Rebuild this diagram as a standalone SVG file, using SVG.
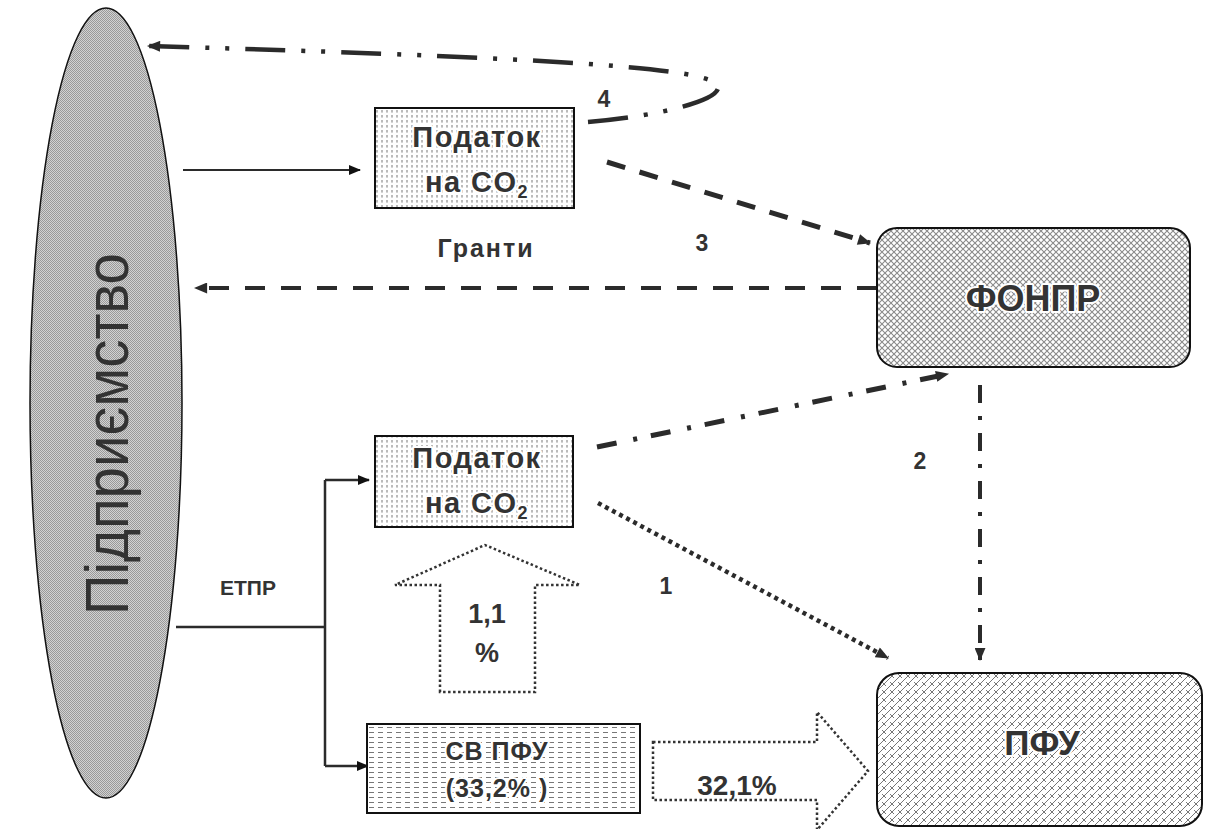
<svg xmlns="http://www.w3.org/2000/svg" width="1230" height="829" viewBox="0 0 1230 829">
<style>
.lbl{font-family:"Liberation Sans",Arial,sans-serif;font-weight:bold;fill:#333;text-anchor:middle}
.halo{stroke:#fff;stroke-width:4;paint-order:stroke;stroke-linejoin:round}
.con{fill:none;stroke:#2b2b2b}
.box{stroke:#111;stroke-width:2}
</style>
<defs>
<marker id="ah" viewBox="0 0 12 10" markerUnits="userSpaceOnUse" markerWidth="14" markerHeight="11" refX="11" refY="5" orient="auto">
<path d="M0 0 L12 5 L0 10 z" fill="#2b2b2b"/>
</marker>
<marker id="ahs" viewBox="0 0 12 10" markerUnits="userSpaceOnUse" markerWidth="13" markerHeight="10" refX="11" refY="5" orient="auto">
<path d="M0 0 L12 5 L0 10 z" fill="#111"/>
</marker>
<pattern id="pDots" patternUnits="userSpaceOnUse" width="5" height="5">
<rect width="5" height="5" fill="#fff"/>
<line x1="2" y1="0" x2="2" y2="2.6" stroke="#777" stroke-width="1"/>
</pattern>
<pattern id="pHor" patternUnits="userSpaceOnUse" width="9" height="5">
<rect width="9" height="5" fill="#fff"/>
<line x1="0" y1="2.5" x2="5" y2="2.5" stroke="#777" stroke-width="1"/>
</pattern>
<pattern id="pCross" patternUnits="userSpaceOnUse" width="6" height="6">
<rect width="6" height="6" fill="#fff"/>
<path d="M0 0 L6 6 M6 0 L0 6" stroke="#8a8a8a" stroke-width="1.1"/>
</pattern>
<pattern id="pWeave" patternUnits="userSpaceOnUse" width="8" height="8">
<rect width="8" height="8" fill="#fff"/>
<path d="M0 8 L8 0 M-2 2 L2 -2 M6 10 L10 6 M2 2 L6 6" stroke="#777" stroke-width="1"/>
</pattern>
<pattern id="pStip" patternUnits="userSpaceOnUse" width="2" height="2">
<rect width="2" height="2" fill="#d2d2d2"/>
<rect width="1" height="1" fill="#999"/>
<rect x="1" y="1" width="1" height="1" fill="#999"/>
</pattern>
</defs>

<g id="connectors">
<path class="con" d="M588 122 C 660 116, 722 100, 718 86 C 712 68, 560 58, 148 46" stroke-width="4.5" stroke-dasharray="40 16 4 16 4 16" marker-end="url(#ah)"/>
<path class="con" d="M183 170 L360 170" stroke-width="2" marker-end="url(#ahs)"/>
<path class="con" d="M607 162 L870 243" stroke-width="5" stroke-dasharray="19 15" marker-end="url(#ah)"/>
<path class="con" d="M877 288 L195 288" stroke-width="4" stroke-dasharray="20 16" marker-end="url(#ah)"/>
<path class="con" d="M597 447 L948 374" stroke-width="5" stroke-dasharray="20 17 4 14" marker-end="url(#ah)"/>
<path class="con" d="M598 503 L888 658" stroke-width="4.5" stroke-dasharray="4 4" marker-end="url(#ah)"/>
<path class="con" d="M980 385 L980 660" stroke-width="4" stroke-dasharray="18 13 4 13" marker-end="url(#ah)"/>
<path class="con" d="M176 627 L325 627 M325 480 L325 766" stroke-width="2.5"/>
<path class="con" d="M325 480 L369 480" stroke-width="2.5" marker-end="url(#ahs)"/>
<path class="con" d="M325 766 L368 766" stroke-width="2.5" marker-end="url(#ahs)"/>
<text class="lbl" x="604" y="107" font-size="23">4</text>
<text class="lbl" x="702" y="251" font-size="23">3</text>
<text class="lbl" x="920" y="469" font-size="23">2</text>
<text class="lbl" x="666" y="594" font-size="23">1</text>
<text class="lbl" x="486" y="257" font-size="25" letter-spacing="2">Гранти</text>
<text class="lbl" x="248" y="595" font-size="21">ЕТПР</text>
</g>

<g id="pidpryiemstvo">
<ellipse cx="106" cy="403" rx="76" ry="395" fill="url(#pStip)" stroke="#111" stroke-width="1.5"/>
<text x="0" y="0" transform="translate(128 434) rotate(-90)" font-family="'Liberation Sans',Arial,sans-serif" font-size="62" fill="#333" text-anchor="middle" textLength="362" lengthAdjust="spacingAndGlyphs">Підприємство</text>
</g>

<g id="podatok1">
<rect class="box" x="375" y="108" width="199" height="100" fill="url(#pDots)"/>
<text class="lbl halo" x="477" y="147" font-size="29" letter-spacing="1.5">Податок</text>
<text class="lbl halo" x="477" y="192" font-size="29" letter-spacing="1.5">на CO<tspan font-size="18" dy="6">2</tspan></text>
</g>

<g id="podatok2">
<rect class="box" x="375" y="436" width="198" height="91" fill="url(#pDots)"/>
<text class="lbl halo" x="477" y="468" font-size="29" letter-spacing="1.5">Податок</text>
<text class="lbl halo" x="477" y="513" font-size="29" letter-spacing="1.5">на CO<tspan font-size="18" dy="6">2</tspan></text>
</g>

<g id="fonpr">
<rect class="box" x="877" y="228" width="313" height="139" rx="20" fill="url(#pCross)"/>
<text class="lbl halo" x="1033" y="311" font-size="36">ФОНПР</text>
</g>

<g id="pfu">
<rect class="box" x="877" y="673" width="325" height="153" rx="22" fill="url(#pWeave)"/>
<text class="lbl halo" x="1042" y="755" font-size="35">ПФУ</text>
</g>

<g id="sv-pfu">
<rect class="box" x="367" y="724" width="273" height="89" fill="url(#pHor)"/>
<text class="lbl halo" x="497" y="760" font-size="25" letter-spacing="1">СВ ПФУ</text>
<text class="lbl halo" x="497" y="797" font-size="25" letter-spacing="1">(33,2% )</text>
</g>

<g id="arrow-up">
<polygon points="440,692 440,585 395,585 485,545 580,585 535,585 535,692" fill="none" stroke="#333" stroke-width="2.5" stroke-dasharray="2.5 2.5"/>
<text class="lbl" x="487" y="623" font-size="27">1,1</text>
<text class="lbl" x="487" y="662" font-size="27">%</text>
</g>

<g id="arrow-right">
<polygon points="653,742 817,742 817,712 868,771 817,830 817,800 653,800" fill="none" stroke="#333" stroke-width="2.5" stroke-dasharray="2.5 2.5"/>
<text class="lbl" x="737" y="795" font-size="28">32,1%</text>
</g>
</svg>
